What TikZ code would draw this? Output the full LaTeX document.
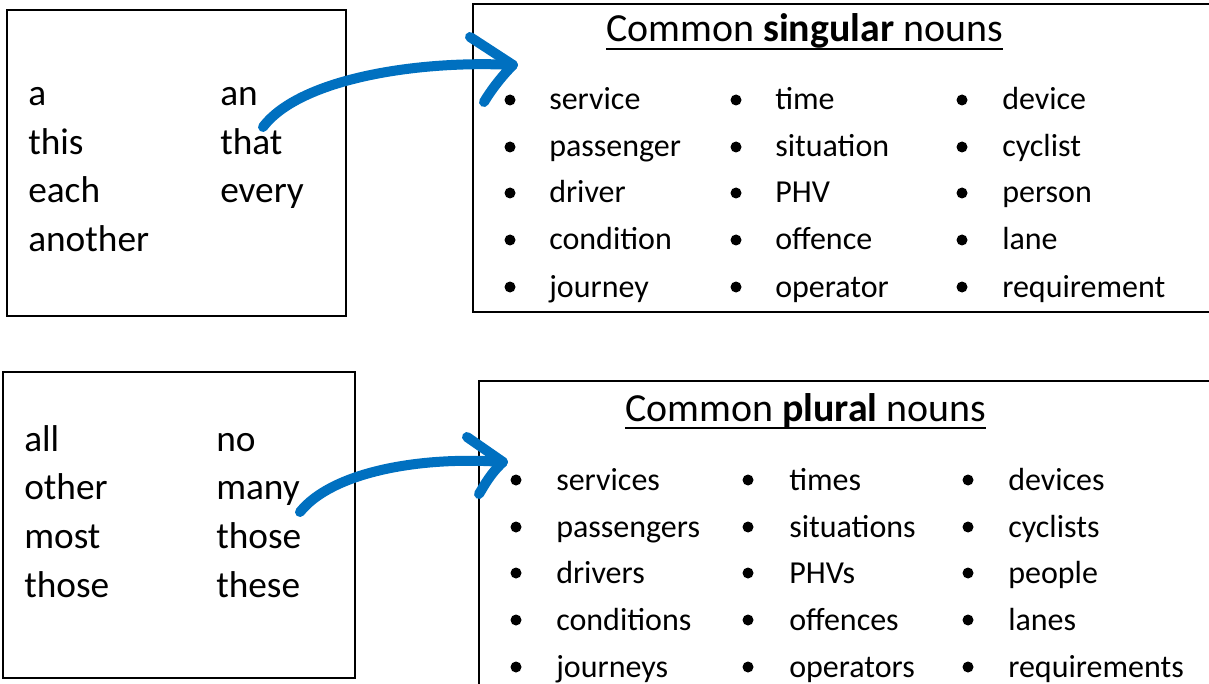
\documentclass[tikz,border=0pt]{standalone}
\usepackage{fontspec}
\setmainfont{Carlito}
\usepackage{tikz}

\begin{document}
\begin{tikzpicture}[x=0.75pt,y=0.75pt,yscale=-1,xscale=1,
    box/.style={line width=1.5},
    det/.style={anchor=base west,inner sep=0pt,font=\fontsize{28pt}{30pt}\selectfont},
    noun/.style={anchor=base west,inner sep=0pt,font=\fontsize{24pt}{26pt}\selectfont},
    heading/.style={anchor=base west,inner sep=0pt,font=\fontsize{29.9pt}{32pt}\selectfont},
    bullet/.style={fill=black,draw=none},
    pointer/.style={draw={rgb, 255:red, 0; green, 112; blue, 192 },line width=7.5,line cap=round,line join=round}]
        \clip (0,0) rectangle (1209,684) ;

        %Shape: Rectangle [id:singleft] 
        \draw [box] (7,10) rectangle (346,316) ;
        %Shape: Rectangle [id:singright] 
        \draw [box] (473,4) rectangle (1220,312) ;
        %Shape: Rectangle [id:plurleft] 
        \draw [box] (3,372) rectangle (355,678) ;
        %Shape: Rectangle [id:plurright] 
        \draw [box] (479,381) rectangle (1220,700) ;

        % Text Node
        \draw (28,106) node [det] (sa) {a};
        \draw (220,106) node [det] (san) {an};
        \draw (28,155) node [det] (sthis) {this};
        \draw (220,155) node [det] (sthat) {that};
        \draw (28,203) node [det] (seach) {each};
        \draw (220,203) node [det] (severy) {every};
        \draw (28,252) node [det] (sanother) {another};

        % Text Node
        \draw (24,451) node [det] (pall) {all};
        \draw (216,451) node [det] (pno) {no};
        \draw (24,499) node [det] (pother) {other};
        \draw (216,499) node [det] (pmany) {many};
        \draw (24,548) node [det] (pmost) {most};
        \draw (216,548) node [det] (pthose) {those};
        \draw (24,597) node [det] (pthoseb) {those};
        \draw (216,597) node [det] (pthese) {these};

        % Text Node
        \draw (606,42) node [heading] (stitle) {Common \textbf{singular} nouns};
        \draw [line width=2] ([yshift=5.25]stitle.base west) -- ([yshift=5.25]stitle.base east) ;
        % Text Node
        \draw (625,421) node [heading] (ptitle) {Common \textbf{plural} nouns};
        \draw [line width=2] ([yshift=5.25]ptitle.base west) -- ([yshift=5.25]ptitle.base east) ;

        %Shape: Circle [id:singbullets] 
        \path [bullet] (510,100) circle [radius=5.5] (510,147) circle [radius=5.5] (510,193) circle [radius=5.5] (510,240) circle [radius=5.5] (510,287) circle [radius=5.5] ;
        \path [bullet] (736,100) circle [radius=5.5] (736,147) circle [radius=5.5] (736,193) circle [radius=5.5] (736,240) circle [radius=5.5] (736,287) circle [radius=5.5] ;
        \path [bullet] (962,100) circle [radius=5.5] (962,147) circle [radius=5.5] (962,193) circle [radius=5.5] (962,240) circle [radius=5.5] (962,287) circle [radius=5.5] ;

        % Text Node
        \draw (549,110) node [noun] (s11) {service};
        \draw (549,157) node [noun] (s12) {passenger};
        \draw (549,203) node [noun] (s13) {driver};
        \draw (549,250) node [noun] (s14) {condition};
        \draw (549,297) node [noun] (s15) {journey};
        \draw (775,110) node [noun] (s21) {time};
        \draw (775,157) node [noun] (s22) {situation};
        \draw (775,203) node [noun] (s23) {PHV};
        \draw (775,250) node [noun] (s24) {offence};
        \draw (775,297) node [noun] (s25) {operator};
        \draw (1002,110) node [noun] (s31) {device};
        \draw (1002,157) node [noun] (s32) {cyclist};
        \draw (1002,203) node [noun] (s33) {person};
        \draw (1002,250) node [noun] (s34) {lane};
        \draw (1002,297) node [noun] (s35) {requirement};

        %Shape: Circle [id:plurbullets] 
        \path [bullet] (516,480) circle [radius=5.5] (516,527) circle [radius=5.5] (516,573) circle [radius=5.5] (516,620) circle [radius=5.5] (516,667) circle [radius=5.5] ;
        \path [bullet] (748,480) circle [radius=5.5] (748,527) circle [radius=5.5] (748,573) circle [radius=5.5] (748,620) circle [radius=5.5] (748,667) circle [radius=5.5] ;
        \path [bullet] (968,480) circle [radius=5.5] (968,527) circle [radius=5.5] (968,573) circle [radius=5.5] (968,620) circle [radius=5.5] (968,667) circle [radius=5.5] ;

        % Text Node
        \draw (556,490) node [noun] (p11) {services};
        \draw (556,537) node [noun] (p12) {passengers};
        \draw (556,583) node [noun] (p13) {drivers};
        \draw (556,630) node [noun] (p14) {conditions};
        \draw (556,677) node [noun] (p15) {journeys};
        \draw (789,490) node [noun] (p21) {times};
        \draw (789,537) node [noun] (p22) {situations};
        \draw (789,583) node [noun] (p23) {PHVs};
        \draw (789,630) node [noun] (p24) {offences};
        \draw (789,677) node [noun] (p25) {operators};
        \draw (1008,490) node [noun] (p31) {devices};
        \draw (1008,537) node [noun] (p32) {cyclists};
        \draw (1008,583) node [noun] (p33) {people};
        \draw (1008,630) node [noun] (p34) {lanes};
        \draw (1008,677) node [noun] (p35) {requirements};

        %Shape: Boxed Bezier Curve [id:singarrow] 
        \coordinate (stail) at (263,127) ;
        \coordinate (stip) at (513,65) ;
        \draw [pointer] (stail) .. controls (300,78) and (420,60) .. (stip) ;
        \draw [pointer] (470,37) -- (stip) .. controls (500,78) and (490,92) .. (484,102) ;
        %Shape: Boxed Bezier Curve [id:plurarrow] 
        \coordinate (ptail) at (300,512) ;
        \coordinate (ptip) at (503,462) ;
        \draw [pointer] (ptail) .. controls (332,472) and (420,456) .. (ptip) ;
        \draw [pointer] (467,437) -- (ptip) .. controls (490,474) and (484,486) .. (479,494) ;

    \end{tikzpicture}
\end{document}
